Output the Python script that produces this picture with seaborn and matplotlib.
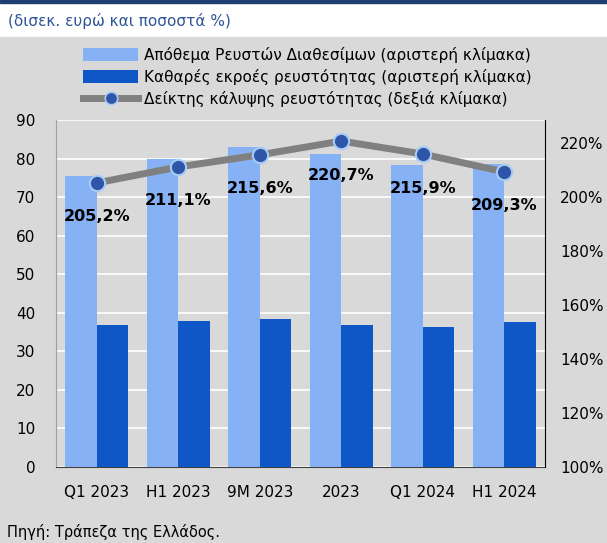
import numpy as np
import pandas as pd
import matplotlib
matplotlib.use("Agg")
import matplotlib.pyplot as plt
from matplotlib.lines import Line2D
from matplotlib.patches import Patch
import seaborn as sns

# δεδομένα (εκτίμηση από το διάγραμμα)
periods = ["Q1 2023", "H1 2023", "9M 2023", "2023", "Q1 2024", "H1 2024"]
stock_liquid = [75.5, 79.8, 82.9, 81.2, 78.2, 78.6]
net_outflows = [36.8, 37.8, 38.4, 36.8, 36.3, 37.6]
coverage_ratio = [205.2, 211.1, 215.6, 220.7, 215.9, 209.3]

name_stock = "Απόθεμα Ρευστών Διαθεσίμων (αριστερή κλίμακα)"
name_out = "Καθαρές εκροές ρευστότητας (αριστερή κλίμακα)"
name_ratio = "Δείκτης κάλυψης ρευστότητας (δεξιά κλίμακα)"

light_blue = "#86B1F4"
dark_blue = "#0F57C6"
bg_gray = "#D9D9D9"

plt.rcParams['font.family'] = ['DejaVu Sans']

df = pd.DataFrame({
    "period": periods * 2,
    "value": stock_liquid + net_outflows,
    "series": [name_stock] * len(periods) + [name_out] * len(periods),
})

fig = plt.figure(figsize=(6.07, 5.43), dpi=100)
fig.patch.set_facecolor("white")
# γκρι φόντο κάτω από τον τίτλο
fig.patches.append(plt.Rectangle((0, 0), 1, 1 - 37 / 543, transform=fig.transFigure,
                                 color=bg_gray, zorder=-10))
# σκούρα μπλε γραμμή στην κορυφή
fig.patches.append(plt.Rectangle((0, 1 - 3 / 543), 1, 3 / 543, transform=fig.transFigure,
                                 color="#1F3F73", zorder=-9))

ax = fig.add_axes([56 / 607, 76 / 543, 489 / 607, 347 / 543])
ax.set_facecolor(bg_gray)

sns.barplot(data=df, x="period", y="value", hue="series",
            palette=[light_blue, dark_blue], width=0.77, saturation=1,
            ax=ax, legend=False, zorder=3)

ax.set_ylim(0, 90)
ax.set_yticks(range(0, 91, 10))
ax.set_xlim(-0.5, len(periods) - 0.5)
ax.grid(axis="y", color="white", linewidth=1.2, zorder=0)
ax.set_axisbelow(True)
ax.set_xlabel("")
ax.set_ylabel("")
ax.tick_params(axis="both", length=0, labelsize=11, colors="black")
ax.tick_params(axis="x", pad=13)
ax.tick_params(axis="y", pad=15)
for s in ["top", "right"]:
    ax.spines[s].set_visible(False)
ax.spines["left"].set_color("#A0A0A0")
ax.spines["bottom"].set_color("#404040")

ax2 = ax.twinx()
ax2.plot(np.arange(len(periods)), coverage_ratio, color="#808080", linewidth=5,
         marker="o", markersize=11, markerfacecolor="#2D55A8",
         markeredgecolor="#A8CBF5", markeredgewidth=1.5, zorder=5)
ax2.set_ylim(100, 228.5)
ax2.set_yticks(range(100, 221, 20))
ax2.set_yticklabels([f"{v}%" for v in range(100, 221, 20)])
ax2.tick_params(axis="y", length=0, labelsize=11, pad=11)
for s in ["top", "left", "bottom"]:
    ax2.spines[s].set_visible(False)
ax2.spines["right"].set_color("black")

for i, v in enumerate(coverage_ratio):
    ax2.annotate(f"{v:.1f}%".replace(".", ","), (i, v), xytext=(0, -34),
                 textcoords="offset pixels",
                 ha="center", va="center", fontsize=11.5, fontweight="bold",
                 color="black", zorder=6)

handles = [
    Patch(facecolor=light_blue, edgecolor="none"),
    Patch(facecolor=dark_blue, edgecolor="none"),
    Line2D([0], [0], color="#808080", linewidth=5, marker="o", markersize=9,
           markerfacecolor="#2D55A8", markeredgecolor="#A8CBF5", markeredgewidth=1.2),
]
fig.legend(handles, [name_stock, name_out, name_ratio], loc="upper left",
           bbox_to_anchor=(83 / 607, 1 - 47 / 543), frameon=False, fontsize=11,
           handlelength=3.6, handleheight=0.9, handletextpad=0.4, labelspacing=0.4,
           borderaxespad=0, borderpad=0)

fig.text(8 / 607, 1 - 21 / 543, "(δισεκ. ευρώ και ποσοστά %)", color="#2F5597",
         fontsize=11, va="center", ha="left")
fig.text(7 / 607, 1 - 532 / 543, "Πηγή: Τράπεζα της Ελλάδος.", color="black",
         fontsize=10.5, va="center", ha="left")

fig.savefig("out.png", dpi=100, facecolor=fig.get_facecolor())
